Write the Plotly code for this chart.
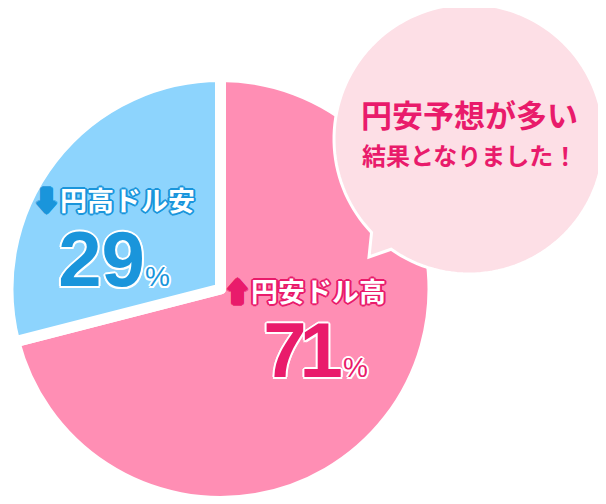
import numpy as np
import plotly.graph_objects as go

# ---------------------------
# data
# ---------------------------
labels = ["円安ドル高", "円高ドル安"]
values = [71, 29]
arrows = ["⬆", "⬇"]
slice_colors = ["#FF8EB4", "#8DD4FD"]
text_colors = ["#E91B6B", "#1A95DB"]
bubble_lines = ["円安予想が多い", "結果となりました！"]

W, H = 606, 504
OFF = 8  # page body margin
JP = "Noto Sans CJK JP"
NUM = "Liberation Sans"


def px(x, y):
    # screen pixel -> paper
    return (x - OFF) / W, 1 - (y - OFF) / H


def outline(c, w):
    d = w * 0.7
    offs = [(w, 0), (-w, 0), (0, w), (0, -w), (d, d), (-d, d), (d, -d), (-d, -d)]
    return ", ".join(f"{dx}px {dy}px 0 {c}" for dx, dy in offs)


fig = go.Figure()

# pie: centre (220.5, 289) on screen, outer path radius 212.5
R = 212.5
pcx, pcy = 220.5, 289
x0, y0 = px(pcx - R, pcy + R)
x1, y1 = px(pcx + R, pcy - R)
fig.add_trace(go.Pie(
    labels=labels,
    values=values,
    sort=False,
    direction="clockwise",
    rotation=0,
    marker=dict(colors=slice_colors, line=dict(color="white", width=11)),
    textinfo="none",
    hoverinfo="label+percent",
    domain=dict(x=[max(x0, 0), x1], y=[y0, y1]),
    showlegend=False,
))

# ---------------------------
# speech bubble
# ---------------------------
cx, cy, r = 469, 139, 135
a0 = np.degrees(np.arctan2(232 - cy, 372 - cx))
a1 = np.degrees(np.arctan2(248 - cy, 392 - cx)) + 360
ang = np.radians(np.linspace(a0, a1, 140))
pts = [px(cx + r * np.cos(t), cy + r * np.sin(t)) for t in ang]
pts.append(px(369, 257))
path = "M " + " L ".join(f"{x:.5f},{y:.5f}" for x, y in pts) + " Z"

fig.add_shape(type="path", xref="paper", yref="paper", path=path,
              fillcolor="#FDDFE6", line=dict(color="white", width=3), layer="above")

bx, by = px(469, 113)
fig.add_annotation(x=bx, y=by, xref="paper", yref="paper", text=bubble_lines[0],
                   showarrow=False, xanchor="center", yanchor="middle",
                   font=dict(family=JP, size=31, color=text_colors[0], weight="bold"))
bx, by = px(469, 154)
fig.add_annotation(x=bx, y=by, xref="paper", yref="paper", text=bubble_lines[1],
                   showarrow=False, xanchor="center", yanchor="middle",
                   font=dict(family=JP, size=24, color=text_colors[0], weight="bold"))

# ---------------------------
# slice labels (label line + big percentage in one block)
# ---------------------------
block_pos = [(315, 332), (114, 241)]
digit_gap = ["-7px", "0px"]
head_pad = [21, 0]  # shifts the label line left of the number line

for i in range(len(labels)):
    c = text_colors[i]
    v = str(values[i])
    pad = f'<span style="font-size:{head_pad[i]}px">\u3000</span>' if head_pad[i] else ""
    head = (f'<span style="font-size:27px;fill:white;text-shadow:{outline(c, 2)}">'
            f'<span style="color:{c}">{arrows[i]}</span>{labels[i]}{pad}</span>')
    num = (f'<span style="font-family:{NUM};font-size:78px;letter-spacing:{digit_gap[i]}">{v[0]}</span>'
           f'<span style="font-family:{NUM};font-size:78px">{v[1:]}</span>'
           f'<span style="font-family:{NUM};font-size:28px;font-weight:normal">%</span>')
    bx, by = px(*block_pos[i])
    fig.add_annotation(
        x=bx, y=by, xref="paper", yref="paper",
        text=head + "<br>" + num,
        showarrow=False, xanchor="center", yanchor="middle", align="center",
        font=dict(family=JP, size=58, color=c, weight="bold",
                  shadow=outline("white", 2)))

fig.update_layout(
    width=W, height=H,
    margin=dict(l=0, r=0, t=0, b=0),
    paper_bgcolor="white",
    plot_bgcolor="white",
    showlegend=False,
)

fig.write_html("out.html")
